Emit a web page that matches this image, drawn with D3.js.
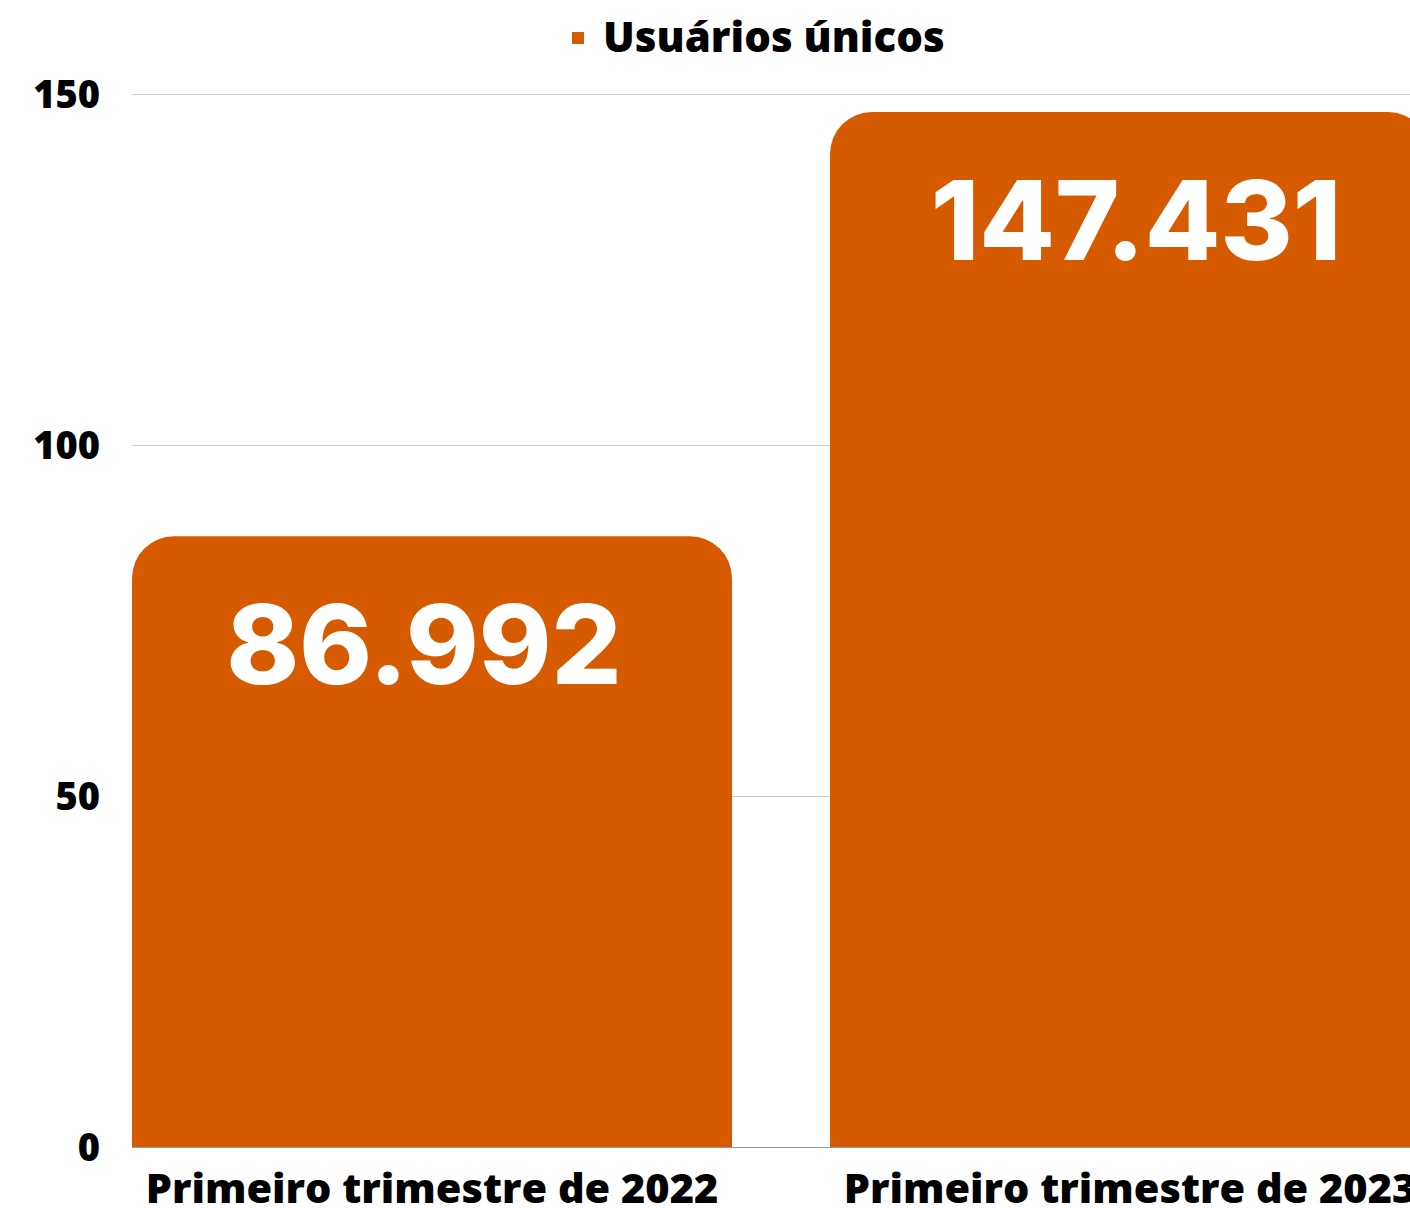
<!DOCTYPE html>
<meta charset="utf-8">
<style>
  body { margin: 0; background: #fff; }
  text { font-family: "Open Sans", sans-serif; font-weight: 800; }
  .value { font-family: Inter, "Open Sans", sans-serif; font-weight: 800; }
</style>
<body>
<script src="https://d3js.org/d3.v7.min.js"></script>
<script>

  var categories = ["Primeiro trimestre de 2022", "Primeiro trimestre de 2023"],
      values = [86.992, 147.431],
      valueLabels = ["86.992", "147.431"],
      yTicks = [0, 50, 100, 150],
      seriesName = "Usuários únicos";

  var width = 1410, height = 1208,
      margin = {top: 94, left: 132, bottom: 61},
      barColor = "#d65a00";

  var svg = d3.select("body").append("svg")
      .attr("width", width)
      .attr("height", height);

  // band runs past the right edge, so the second bar is cut off like the original
  var x = d3.scaleBand()
      .domain(categories)
      .range([margin.left, 1430])
      .paddingInner(98 / 698)
      .paddingOuter(0);

  var y = d3.scaleLinear()
      .domain([0, 150])
      .range([height - margin.bottom, margin.top]);

  // grid
  svg.append("g")
      .selectAll("line")
      .data(yTicks.filter(function(d) { return d > 0; }))
      .enter().append("line")
      .attr("x1", margin.left).attr("x2", width)
      .attr("y1", function(d) { return y(d) + 0.5; })
      .attr("y2", function(d) { return y(d) + 0.5; })
      .attr("stroke", "#cccccc");

  svg.append("line")
      .attr("x1", margin.left).attr("x2", width)
      .attr("y1", y(0) + 0.5).attr("y2", y(0) + 0.5)
      .attr("stroke", "#999999");

  // y labels
  svg.append("g")
      .selectAll("text")
      .data(yTicks)
      .enter().append("text")
      .attr("x", 100)
      .attr("y", function(d) { return y(d); })
      .attr("dy", "0.36em")
      .attr("text-anchor", "end")
      .style("font-size", "38px")
      .attr("fill", "#000")
      .text(function(d) { return d; });

  // bars with rounded tops
  var r = 42;
  function barPath(x0, w, yTop, yBot) {
    return "M" + x0 + "," + yBot +
      "V" + (yTop + r) +
      "A" + r + "," + r + " 0 0 1 " + (x0 + r) + "," + yTop +
      "H" + (x0 + w - r) +
      "A" + r + "," + r + " 0 0 1 " + (x0 + w) + "," + (yTop + r) +
      "V" + yBot + "Z";
  }

  svg.append("g")
      .selectAll("path")
      .data(values)
      .enter().append("path")
      .attr("d", function(d, i) {
        return barPath(x(categories[i]), x.bandwidth(), y(d), y(0));
      })
      .attr("fill", barColor);

  // value labels inside the bars
  svg.append("g")
      .selectAll("text")
      .data(values)
      .enter().append("text")
      .attr("class", "value")
      .attr("x", function(d, i) { return x(categories[i]) + x.bandwidth() / 2 + (i ? 6 : -8); })
      .attr("y", function(d) { return y(d) + 148; })
      .attr("text-anchor", "middle")
      .style("font-size", "110px")
      .attr("fill", "#fff")
      .text(function(d, i) { return valueLabels[i]; });

  // x labels
  svg.append("g")
      .selectAll("text")
      .data(categories)
      .enter().append("text")
      .attr("x", function(d) { return x(d) + x.bandwidth() / 2; })
      .attr("y", 1203)
      .attr("text-anchor", "middle")
      .style("font-size", "41.5px")
      .attr("fill", "#000")
      .text(function(d) { return d; });

  // legend
  var legend = svg.append("g");
  legend.append("rect")
      .attr("x", 572).attr("y", 32)
      .attr("width", 12).attr("height", 12)
      .attr("fill", barColor);
  legend.append("text")
      .attr("x", 603).attr("y", 52)
      .style("font-size", "42px")
      .attr("fill", "#000")
      .text(seriesName);

</script>
</body>
